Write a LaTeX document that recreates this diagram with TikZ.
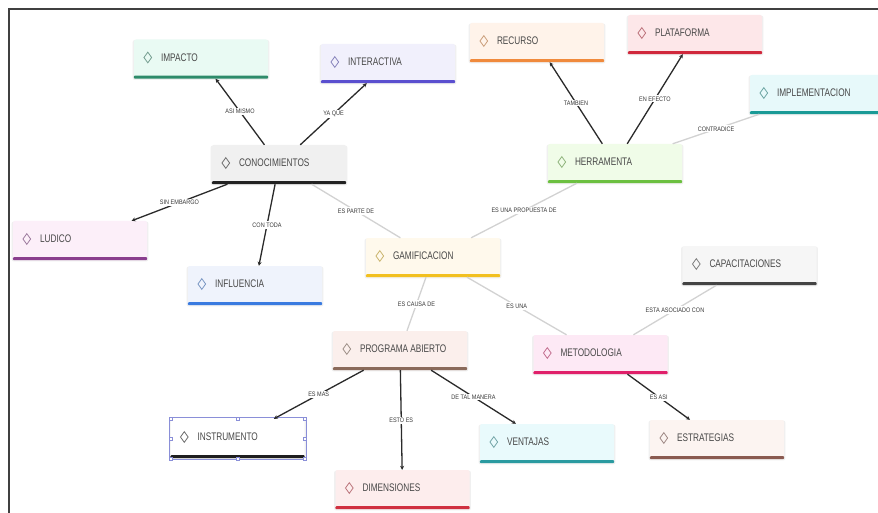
\documentclass[tikz,border=0pt]{standalone}
\usepackage{fontspec}
\setmainfont{Liberation Sans}
\newfontfamily\nodefont{Liberation Sans}[FakeStretch=0.75]
\newfontfamily\lblfont{Liberation Sans}[FakeStretch=0.85]
\usetikzlibrary{shapes.geometric,arrows.meta,shadows}
\definecolor{txtgray}{HTML}{484848}
\definecolor{fImp}{HTML}{E9FAF3}\definecolor{bImp}{HTML}{2E8B6A}
\definecolor{fInt}{HTML}{F1F0FC}\definecolor{bInt}{HTML}{5A4FCF}
\definecolor{fCon}{HTML}{F0F0F0}\definecolor{bCon}{HTML}{222222}
\definecolor{fRec}{HTML}{FFF3EA}\definecolor{bRec}{HTML}{F08A3C}
\definecolor{fPla}{HTML}{FDE7E9}\definecolor{bPla}{HTML}{D0283C}
\definecolor{fImpl}{HTML}{E7F9FA}\definecolor{bImpl}{HTML}{1A9A96}
\definecolor{fHer}{HTML}{F0FCE8}\definecolor{bHer}{HTML}{6CC040}
\definecolor{fLud}{HTML}{FCEFF9}\definecolor{bLud}{HTML}{8A3E8E}
\definecolor{fInf}{HTML}{EFF3FC}\definecolor{bInf}{HTML}{3A7BE0}
\definecolor{fGam}{HTML}{FFF9EC}\definecolor{bGam}{HTML}{F2C020}
\definecolor{fCap}{HTML}{F6F6F6}\definecolor{bCap}{HTML}{444444}
\definecolor{fPro}{HTML}{FBEFEC}\definecolor{bPro}{HTML}{8A6A5A}
\definecolor{fMet}{HTML}{FDE9F5}\definecolor{bMet}{HTML}{E0206A}
\definecolor{fIns}{HTML}{FFFFFF}\definecolor{bIns}{HTML}{1E1E1E}
\definecolor{fDim}{HTML}{FDEDED}\definecolor{bDim}{HTML}{D03040}
\definecolor{fVen}{HTML}{E9FAFC}\definecolor{bVen}{HTML}{2A9AA0}
\definecolor{fEst}{HTML}{FCF4F1}\definecolor{bEst}{HTML}{8A5A50}
\definecolor{lightline}{HTML}{D2D2D2}
\definecolor{darkline}{HTML}{2A2A2A}
\definecolor{selblue}{HTML}{8A8FD8}
\tikzset{
  cbox/.style={rectangle, rounded corners=2pt, minimum width=134pt, minimum height=39pt,
    inner sep=0pt, draw=none, general shadow={fill=black!6, shadow xshift=0pt, shadow yshift=-1pt, shadow scale=1.02}},
  ctext/.style={font=\nodefont\fontsize{11}{13}\selectfont, text=txtgray, anchor=west, inner sep=0pt},
  cdiam/.style={diamond, minimum width=8pt, minimum height=11pt, inner sep=0pt, line width=0.8pt},
  lbl/.style={font=\lblfont\fontsize{6.5}{8}\selectfont, text=black!78, fill=white, inner sep=1.2pt},
  darkcon/.style={draw=darkline, line width=1.3pt, -{Stealth[length=4pt,width=4pt]}},
  lightcon/.style={draw=lightline, line width=1.3pt},
  handle/.style={draw=selblue, fill=white, line width=0.4pt, minimum size=3pt, inner sep=0pt, rectangle}
}
\newcommand\mapnode[7]{%
  \node[cbox, fill=#4] (#1) at (#2,#3) {};
  \fill[#5, rounded corners=1pt] ([yshift=3pt]#1.south west) rectangle (#1.south east);
  \node[cdiam, draw=#5!55!gray!80] at ([xshift=14pt,yshift=1.5pt]#1.west) {};
  \node[ctext] at ([xshift=27pt,yshift=1.5pt]#1.west) {#6};
}
\begin{document}
\begin{tikzpicture}[x=1pt,y=-1pt]
\useasboundingbox (0,0) rectangle (878,513);
\fill[white] (0,0) rectangle (878,513);
% frame
\draw[black!75, line width=2pt] (8.5,513) -- (8.5,9.5) -- (878,9.5);
% nodes
\mapnode{imp}{201}{59}{fImp}{bImp}{IMPACTO}{}
\mapnode{int}{388}{63.5}{fInt}{bInt}{INTERACTIVA}{}
\mapnode{con}{279}{164.5}{fCon}{bCon}{CONOCIMIENTOS}{}
\mapnode{rec}{537}{42.5}{fRec}{bRec}{RECURSO}{}
\mapnode{pla}{695}{34.5}{fPla}{bPla}{PLATAFORMA}{}
\mapnode{impl}{817}{94.5}{fImpl}{bImpl}{IMPLEMENTACION}{}
\mapnode{her}{615}{163.5}{fHer}{bHer}{HERRAMENTA}{}
\mapnode{lud}{80}{240.5}{fLud}{bLud}{LUDICO}{}
\mapnode{inf}{255}{285.5}{fInf}{bInf}{INFLUENCIA}{}
\mapnode{gam}{433}{257.5}{fGam}{bGam}{GAMIFICACION}{}
\mapnode{cap}{749.5}{265.5}{fCap}{bCap}{CAPACITACIONES}{}
\mapnode{pro}{400}{350.5}{fPro}{bPro}{PROGRAMA ABIERTO}{}
\mapnode{met}{600.5}{354.5}{fMet}{bMet}{METODOLOGIA}{}
\mapnode{ins}{237.5}{438.5}{fIns}{bIns}{INSTRUMENTO}{}
\mapnode{dim}{402.5}{489.5}{fDim}{bDim}{DIMENSIONES}{}
\mapnode{ven}{547}{443.5}{fVen}{bVen}{VENTAJAS}{}
\mapnode{est}{717}{439.5}{fEst}{bEst}{ESTRATEGIAS}{}
% selection frame around INSTRUMENTO
\draw[selblue, line width=0.5pt] ([xshift=-1.5pt,yshift=1.5pt]ins.north west) rectangle ([xshift=1.5pt,yshift=-1.5pt]ins.south east);
\foreach \a in {north west,north,north east,west,east,south west,south,south east}
  \node[handle] at (ins.\a) {};
% light connectors
\draw[lightcon] (gam) -- node[lbl]{ES PARTE DE} (con);
\draw[lightcon] (gam) -- node[lbl]{ES UNA PROPUESTA DE} (her);
\draw[lightcon] (her) -- node[lbl]{CONTRADICE} (impl);
\draw[lightcon] (gam) -- node[lbl]{ES CAUSA DE} (pro);
\draw[lightcon] (gam) -- node[lbl]{ES UNA} (met);
\draw[lightcon] (met) -- node[lbl]{ESTA ASOCIADO CON} (cap);
% dark connectors
\draw[darkcon] (con) -- node[lbl]{ASI MISMO} (imp);
\draw[darkcon] (con) -- node[lbl]{YA QUE} (int);
\draw[darkcon] (con) -- node[lbl]{SIN EMBARGO} (lud);
\draw[darkcon] (con) -- node[lbl]{CON TODA} (inf);
\draw[darkcon] (her) -- node[lbl]{TAMBIEN} (rec);
\draw[darkcon] (her) -- node[lbl]{EN EFECTO} (pla);
\draw[darkcon] (met) -- node[lbl]{ES ASI} (est);
\draw[darkcon] (pro) -- node[lbl]{ES MAS} (ins);
\draw[darkcon] (pro) -- node[lbl]{ESTO ES} (dim);
\draw[darkcon] (pro) -- node[lbl]{DE TAL MANERA} (ven);
\end{tikzpicture}
\end{document}
